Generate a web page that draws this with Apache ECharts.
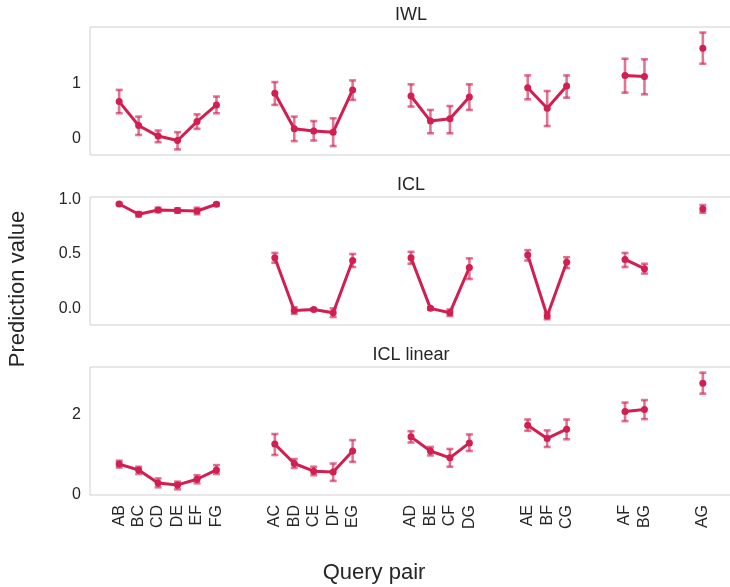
<!DOCTYPE html>
<html><head><meta charset="utf-8">
<script src="https://cdn.jsdelivr.net/npm/echarts@6/dist/echarts.min.js"></script>
<style>html,body{margin:0;padding:0;background:#fff;overflow:hidden}#c{width:730px;height:587px}</style>
</head><body><div id="c"></div>
<script>
// ---------- data ----------
const pairGroups = [
  ['AB','BC','CD','DE','EF','FG'],
  ['AC','BD','CE','DF','EG'],
  ['AD','BE','CF','DG'],
  ['AE','BF','CG'],
  ['AF','BG'],
  ['AG']
];
const panelTitles = ['IWL', 'ICL', 'ICL linear'];

// order: AB BC CD DE EF FG | AC BD CE DF EG | AD BE CF DG | AE BF CG | AF BG | AG
const iwlMean = [0.67,0.24,0.05,-0.03,0.31,0.61, 0.82,0.18,0.14,0.12,0.88, 0.77,0.32,0.36,0.75, 0.92,0.55,0.95, 1.14,1.12, 1.63];
const iwlLow  = [0.46,0.07,-0.06,-0.19,0.18,0.46, 0.61,-0.04,-0.03,-0.13,0.70, 0.58,0.10,0.10,0.52, 0.71,0.23,0.74, 0.83,0.80, 1.35];
const iwlHigh = [0.88,0.40,0.15,0.12,0.44,0.76, 1.02,0.40,0.32,0.37,1.05, 0.98,0.52,0.59,0.98, 1.14,0.86,1.14, 1.44,1.43, 1.91];

const iclMean = [0.96,0.865,0.905,0.90,0.895,0.957, 0.465,-0.02,-0.01,-0.04,0.44, 0.465,0.0,-0.04,0.376, 0.49,-0.07,0.425, 0.45,0.365, 0.914];
const iclLow  = [0.95,0.845,0.885,0.88,0.865,0.947, 0.42,-0.05,-0.02,-0.08,0.38, 0.41,-0.01,-0.07,0.27, 0.44,-0.10,0.37, 0.38,0.32, 0.88];
const iclHigh = [0.97,0.885,0.925,0.92,0.925,0.967, 0.51,0.01,0.0,0.0,0.50, 0.52,0.01,-0.01,0.46, 0.535,-0.04,0.47, 0.51,0.41, 0.95];

const linMean = [0.765,0.62,0.30,0.25,0.39,0.62, 1.26,0.78,0.59,0.57,1.09, 1.44,1.09,0.92,1.29, 1.73,1.40,1.63, 2.07,2.12, 2.77];
const linLow  = [0.68,0.52,0.19,0.14,0.29,0.52, 0.99,0.67,0.49,0.35,0.82, 1.30,0.98,0.70,1.09, 1.59,1.19,1.38, 1.83,1.88, 2.51];
const linHigh = [0.85,0.70,0.41,0.33,0.49,0.74, 1.51,0.89,0.70,0.78,1.36, 1.58,1.19,1.14,1.50, 1.87,1.60,1.87, 2.29,2.35, 3.03];

const yTicksIWL = [0, 1];
const yTicksICL = [0, 0.5, 1];
const yTicksLin = [0, 2];

// ---------- layout ----------
const slots = ['_s0'];
pairGroups.forEach((g, gi) => {
  if (gi > 0) { slots.push('_a' + gi); slots.push('_b' + gi); }
  g.forEach(p => slots.push(p));
});
slots.push('_end');
const pairSlot = [];
slots.forEach((s, i) => { if (s[0] !== '_') pairSlot.push(i); });

const panels = [
  {mean: iwlMean, low: iwlLow, high: iwlHigh, ticks: yTicksIWL, min: -0.29, max: 2.01, fmt: v => String(v)},
  {mean: iclMean, low: iclLow, high: iclHigh, ticks: yTicksICL, min: -0.153, max: 1.024, fmt: v => v.toFixed(1)},
  {mean: linMean, low: linLow, high: linHigh, ticks: yTicksLin, min: 0, max: 3.17, fmt: v => String(v)}
];

const COLOR = '#d01f50';
const ERR = 'rgba(208,31,80,0.62)';
const TXT = '#262626';
const FONT = '"Liberation Sans", Arial, sans-serif';
const tops = [27, 197, 367];

const grids = [], xAxes = [], yAxes = [], series = [], titles = [];
panels.forEach((p, k) => {
  grids.push({left: 90, width: 642, top: tops[k], height: 128, show: true,
    outerBoundsMode: 'none', containLabel: false,
    borderColor: '#cfcfcf', borderWidth: 1, backgroundColor: 'transparent'});
  xAxes.push({gridIndex: k, type: 'category', data: slots, boundaryGap: true,
    axisLine: {show: false}, axisTick: {show: false}, splitLine: {show: false},
    axisLabel: {show: k === 2, interval: 0, rotate: 90, margin: 10, fontSize: 16,
      color: TXT, fontFamily: FONT, formatter: v => (v[0] === '_' ? '' : v)}});
  yAxes.push({gridIndex: k, type: 'value', min: p.min, max: p.max,
    axisLine: {show: false}, axisTick: {show: false}, splitLine: {show: false},
    axisLabel: {customValues: p.ticks, margin: 9, fontSize: 16, color: TXT,
      fontFamily: FONT, formatter: p.fmt}});
  const lineData = slots.map(() => null);
  pairSlot.forEach((s, j) => { lineData[s] = p.mean[j]; });
  series.push({
    type: 'custom', xAxisIndex: k, yAxisIndex: k, z: 2, silent: true,
    data: pairSlot.map((s, j) => [s, p.low[j], p.high[j]]),
    encode: {x: 0, y: [1, 2]},
    renderItem: (params, api) => {
      const x = api.value(0);
      const lo = api.coord([x, api.value(1)]);
      const hi = api.coord([x, api.value(2)]);
      const c = 3.5;
      const st = {stroke: ERR, lineWidth: 2.6};
      return {type: 'group', children: [
        {type: 'line', shape: {x1: lo[0], y1: lo[1], x2: hi[0], y2: hi[1]}, style: st},
        {type: 'line', shape: {x1: lo[0] - c, y1: lo[1], x2: lo[0] + c, y2: lo[1]}, style: st},
        {type: 'line', shape: {x1: hi[0] - c, y1: hi[1], x2: hi[0] + c, y2: hi[1]}, style: st}
      ]};
    }
  });
  series.push({
    type: 'line', xAxisIndex: k, yAxisIndex: k, z: 3, data: lineData,
    connectNulls: false, symbol: 'circle', symbolSize: 7, showAllSymbol: true,
    itemStyle: {color: COLOR}, lineStyle: {color: COLOR, width: 3}, animation: false
  });
  titles.push({text: panelTitles[k], left: 411, textAlign: 'center', top: tops[k] - 21, padding: 0,
    textStyle: {fontSize: 18, fontWeight: 'normal', color: TXT, fontFamily: FONT}});
});

const chart = echarts.init(document.getElementById('c'), null, {renderer: 'canvas'});
chart.setOption({
  animation: false,
  backgroundColor: '#ffffff',
  title: titles,
  grid: grids, xAxis: xAxes, yAxis: yAxes, series: series,
  graphic: [
    {type: 'text', x: 18, y: 289, rotation: Math.PI / 2,
      style: {text: 'Prediction value', fontSize: 22, fill: TXT, fontFamily: FONT,
        align: 'center', verticalAlign: 'middle'}},
    {type: 'text', x: 374, y: 573,
      style: {text: 'Query pair', fontSize: 22, fill: TXT, fontFamily: FONT,
        align: 'center', verticalAlign: 'middle'}}
  ]
});
</script></body></html>
